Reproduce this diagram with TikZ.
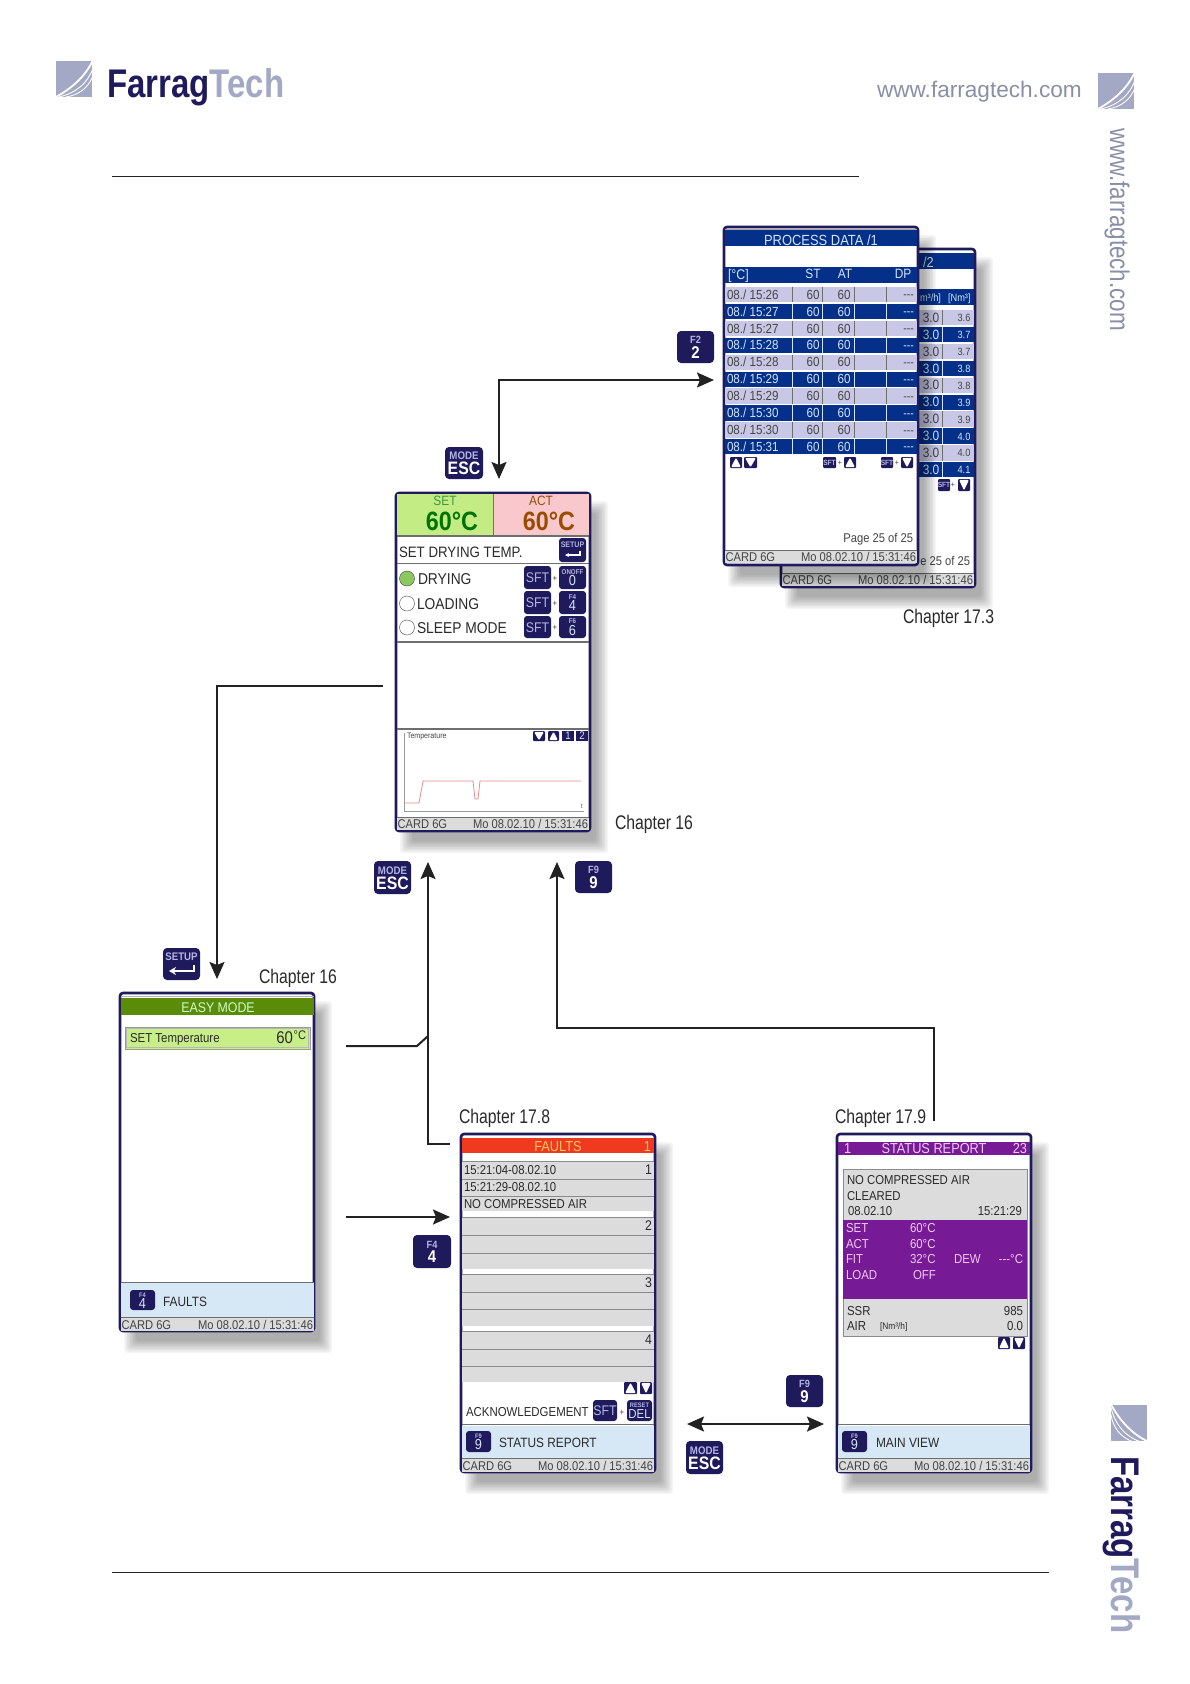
\documentclass[tikz,border=0pt]{standalone}
\usepackage{fontspec}
\usetikzlibrary{arrows.meta}
\setmainfont{Liberation Sans}
\newfontfamily\scr[FakeStretch=.88]{Liberation Sans}
\newfontfamily\chapf[FakeStretch=.8]{Liberation Sans}
\newfontfamily\urlf[FakeStretch=.83]{Liberation Sans}
\newfontfamily\logof[FakeStretch=.825]{Liberation Sans}
\definecolor{navy}{HTML}{1F1A5C}
\definecolor{lil}{HTML}{A3A8C4}
\definecolor{keylil}{HTML}{B4B4E4}
\definecolor{pblue}{HTML}{04308A}
\definecolor{prow}{HTML}{C8C8E6}
\definecolor{ptxt}{HTML}{D4E4F8}
\definecolor{dtx}{HTML}{2A2A2A}
\definecolor{gtx}{HTML}{444444}
\definecolor{sep}{HTML}{6E6E6E}
\definecolor{rowg}{HTML}{DCDCDC}
\definecolor{botb}{HTML}{D6E8F5}
\definecolor{purp}{HTML}{761A96}
\definecolor{ppink}{HTML}{F2C8F2}
\definecolor{gline}{HTML}{222222}
\definecolor{fltxt}{HTML}{FFC860}
\definecolor{chartred}{HTML}{E88A8A}
\newcount\tn
\tikzset{
  txt/.style={inner sep=0pt,outer sep=0pt},
  scrframe/.style={draw=navy,fill=white,line width=2.6pt,rounded corners=3pt,minimum width=194pt,minimum height=338pt,inner sep=0pt,outer sep=0pt},
  keybox/.style={fill=navy,rounded corners=4pt,inner sep=0pt,outer sep=0pt},
  conn/.style={draw=gline,line width=2pt},
  arr/.style={-{Stealth[length=17pt,width=15pt,inset=3pt]}},
  arrb/.style={{Stealth[length=17pt,width=15pt,inset=3pt]}-{Stealth[length=17pt,width=15pt,inset=3pt]}},
  rule/.style={draw=gline,line width=.9pt},
  chap/.style={txt,anchor=base west,text=dtx,font=\chapf\fontsize{19.7}{20}\selectfont},
}
% #1 x, #2 y(centre of caps), #3 anchor, #4 size, #5 colour, #6 text
\newcommand\tx[6]{\global\advance\tn by1
  \node[txt,anchor=#3,text=#5,font=\scr\fontsize{#4}{#4}\selectfont] (t\the\tn) at ({#1},{#2+.36*#4}) {#6};}
\newcommand\txb[6]{\global\advance\tn by1
  \node[txt,anchor=#3,text=#5,font=\scr\bfseries\fontsize{#4}{#4}\selectfont] (t\the\tn) at ({#1},{#2+.36*#4}) {#6};}
\newcommand\screen[3]{%
  \foreach \s in {6,4.5,3,1.5,0,-1.5,-3,-4.5,-6}{
    \fill[black,opacity=.04,rounded corners=3pt] ({#2+11-\s},{#3+15-\s}) rectangle ({#2+207+\s},{#3+355+\s});}
  \node[scrframe] (#1) at ({#2+98},{#3+170}) {};}
\newcommand\foot[3]{%
  \fill[rowg] ({#1+2},#3) rectangle ({#2-2},{#3+13});
  \draw[sep,line width=.8pt] ({#1+2},#3) -- ({#2-2},#3);
  \tx{#1+2.5}{#3+7}{base west}{12.7}{gtx}{CARD 6G}
  \tx{#2-3}{#3+7}{base east}{12.7}{gtx}{Mo 08.02.10 / 15:31:46}}
% name x0 y0 x1 y1 top bottom topsize botsize
\newcommand\key[9]{%
  \pgfmathsetmacro\kw{#4-#2}\pgfmathsetmacro\kh{#5-#3}
  \node[keybox,minimum width=\kw pt,minimum height=\kh pt] (#1) at ({(#2+#4)/2},{(#3+#5)/2}) {};
  \txb{(#2+#4)/2}{#3+.28*(#5-#3)}{base}{#8}{keylil}{#6}
  \txb{(#2+#4)/2}{#3+.66*(#5-#3)}{base}{#9}{white}{#7}}
% small key in a screen
\newcommand\skey[9]{%
  \pgfmathsetmacro\kw{#4-#2}\pgfmathsetmacro\kh{#5-#3}
  \node[keybox,rounded corners=3pt,minimum width=\kw pt,minimum height=\kh pt] (#1) at ({(#2+#4)/2},{(#3+#5)/2}) {};
  \txb{(#2+#4)/2}{#3+.24*(#5-#3)}{base}{#8}{keylil}{#6}
  \tx{(#2+#4)/2}{#3+.64*(#5-#3)}{base}{#9}{ptxt}{#7}}
\newcommand\sftkey[5]{%
  \pgfmathsetmacro\kw{#4-#2}\pgfmathsetmacro\kh{#5-#3}
  \node[keybox,rounded corners=3pt,minimum width=\kw pt,minimum height=\kh pt] (#1) at ({(#2+#4)/2},{(#3+#5)/2}) {};
  \tx{(#2+#4)/2}{(#3+#5)/2}{base}{14}{keylil}{SFT}}
\newcommand\minisft[4]{%
  \fill[navy,rounded corners=1pt] (#1,#2) rectangle (#3,#4);
  \txb{(#1+#3)/2}{(#2+#4)/2}{base}{7.5}{keylil}{SFT}}
\newcommand\upk[4]{%
  \fill[navy,rounded corners=1pt] (#1,#2) rectangle (#3,#4);
  \fill[white,rounded corners=1.2pt] ({#1+1},{#4-.8}) -- ({(#1+#3)/2},{#2+.6}) -- ({#3-1},{#4-.8}) -- cycle;}
\newcommand\dnk[4]{%
  \fill[navy,rounded corners=1pt] (#1,#2) rectangle (#3,#4);
  \fill[white,rounded corners=1.2pt] ({#1+1},{#2+.8}) -- ({(#1+#3)/2},{#4-.6}) -- ({#3-1},{#2+.8}) -- cycle;}
\newcommand\logomark[3]{%
  \begin{scope}[shift={(#1,#2)},rotate=#3]
    \fill[lil] (-18,-18) rectangle (18,18);
    \draw[white,line width=1.8pt] (-18,18) .. controls (0,8) and (12,-4) .. (19,-19);
    \draw[white,line width=.9pt] (-15,18) .. controls (2,14) and (14,4) .. (19,-11);
    \draw[white,line width=.9pt] (-8,18) .. controls (5,16) and (14,9) .. (19,-3);
  \end{scope}}
\begin{document}
\begin{tikzpicture}[x=1pt,y=-1pt]
\useasboundingbox (0,0) rectangle (1190,1684);
\fill[white] (0,0) rectangle (1190,1684);

% header, footer, rules
\logomark{74}{79}{0}
\logomark{1116}{91}{0}
\logomark{1129}{1422.5}{-90}
\node[txt,anchor=base west,font=\logof\bfseries\fontsize{40}{40}\selectfont] (logotop) at (107,97) {\textcolor{navy}{Farrag}\textcolor{lil}{Tech}};
\node[txt,anchor=base west,rotate=-90,font=\logof\bfseries\fontsize{40}{40}\selectfont] (logoside) at (1111,1456) {\textcolor{navy}{Farrag}\textcolor{lil}{Tech}};
\node[txt,anchor=base west,text=lil!85!black,font=\fontsize{22.6}{22.6}\selectfont] (urltop) at (877,97) {www.farragtech.com};
\node[txt,anchor=base west,rotate=-90,text=lil!85!black,font=\urlf\fontsize{27}{27}\selectfont] (urlside) at (1110,128) {www.farragtech.com};
\coordinate (r1a) at (112,176); \coordinate (r1b) at (859,176);
\coordinate (r2a) at (112,1572); \coordinate (r2b) at (1049,1572);
\draw[rule] (r1a) -- (r1b);
\draw[rule] (r2a) -- (r2b);

% ------------- back process screen
\screen{procb}{780}{248}
\fill[pblue] (919,253) rectangle (974,269);
\fill[pblue] (919,289) rectangle (974,305);
\tx{923}{262}{base west}{14.5}{ptxt}{/2}
\tx{920}{297.5}{base west}{10.5}{ptxt}{m³/h]}
\tx{948}{297.5}{base west}{10.5}{ptxt}{[Nm³]}
\foreach \v [count=\k from 0] in {3.6,3.7,3.7,3.8,3.8,3.9,3.9,4.0,4.0,4.1}{
  \pgfmathsetmacro\yy{310+16.9*\k}
  \pgfmathtruncatemacro\odd{mod(\k,2)}
  \ifnum\odd=1
    \fill[pblue] (919,\yy) rectangle (974,{\yy+15.3});
    \draw[ptxt,line width=1pt] (942,\yy) -- (942,{\yy+15.3});
    \tx{931}{\yy+7.5}{base}{13.5}{ptxt}{3.0}
    \tx{964}{\yy+8}{base}{10.5}{ptxt}{\v}
  \else
    \fill[prow] (919,\yy) rectangle (974,{\yy+15.3});
    \draw[sep,line width=1pt] (942,\yy) -- (942,{\yy+15.3});
    \tx{931}{\yy+7.5}{base}{13.5}{gtx}{3.0}
    \tx{964}{\yy+8}{base}{10.5}{gtx}{\v}
  \fi
}
\minisft{938}{479}{950}{491}
\tx{953}{485}{base}{8}{gtx}{+}
\dnk{958}{479}{970}{491}
\tx{970}{561}{base east}{12.7}{gtx}{e 25 of 25}
\foot{780}{976}{573}

% ------------- front process screen
\screen{procf}{723}{226}
\draw[sep!60,line width=1pt] (725,229) -- (917,229);
\fill[pblue] (725,230) rectangle (917,246);
\tx{821}{240}{base}{14.7}{ptxt}{PROCESS DATA /1}
\fill[pblue] (725,267) rectangle (917,283);
\tx{728}{274}{base west}{14}{ptxt}{[°C]}
\tx{813}{274}{base}{13.5}{ptxt}{ST}
\tx{845}{274}{base}{13.5}{ptxt}{AT}
\tx{903}{274}{base}{13.5}{ptxt}{DP}
\foreach \d [count=\k from 0] in {15:26,15:27,15:27,15:28,15:28,15:29,15:29,15:30,15:30,15:31}{
  \pgfmathsetmacro\yy{287+16.9*\k}
  \pgfmathtruncatemacro\odd{mod(\k,2)}
  \ifnum\odd=1
    \fill[pblue] (725,\yy) rectangle (917,{\yy+15.3});
    \foreach \sx in {792,822,854,886}{\draw[ptxt,line width=1pt] (\sx,\yy) -- (\sx,{\yy+15.3});}
    \tx{727}{\yy+7.5}{base west}{13.2}{ptxt}{08./ \d}
    \tx{813}{\yy+7.5}{base}{13.2}{ptxt}{60}
    \tx{844}{\yy+7.5}{base}{13.2}{ptxt}{60}
    \tx{914}{\yy+7.5}{base east}{12}{ptxt}{---}
  \else
    \fill[prow] (725,\yy) rectangle (917,{\yy+15.3});
    \foreach \sx in {792,822,854,886}{\draw[sep,line width=1pt] (\sx,\yy) -- (\sx,{\yy+15.3});}
    \tx{727}{\yy+7.5}{base west}{13.2}{gtx}{08./ \d}
    \tx{813}{\yy+7.5}{base}{13.2}{gtx}{60}
    \tx{844}{\yy+7.5}{base}{13.2}{gtx}{60}
    \tx{914}{\yy+7.5}{base east}{12}{gtx}{---}
  \fi
}
\upk{730}{457}{742}{468}
\dnk{744}{457}{757}{468}
\minisft{823}{457}{836}{468}
\tx{840}{462.5}{base}{8}{gtx}{+}
\upk{844}{457}{856}{468}
\minisft{881}{457}{893}{468}
\tx{897}{462.5}{base}{8}{gtx}{+}
\dnk{901}{457}{913}{468}
\tx{913}{538}{base east}{12.7}{gtx}{Page 25 of 25}
\foot{723}{919}{550}

% ------------- main screen
\screen{main}{395}{492}
\fill[fill={rgb,255:red,196;green,236;blue,132}] (397,494) rectangle (493,535);
\fill[fill={rgb,255:red,248;green,200;blue,204}] (493,494) rectangle (589,535);
\draw[sep,line width=1pt] (493,494) -- (493,535);
\foreach \yy in {536,563.5,642,729}{\draw[sep,line width=1.1pt] (397,\yy) -- (589,\yy);}
\tx{445}{501}{base}{13.5}{green!45!black!75}{SET}
\tx{541}{501}{base}{13.5}{orange!60!black}{ACT}
\txb{452}{521}{base}{26.5}{green!45!black}{60°C}
\txb{549}{521}{base}{26.5}{orange!60!black}{60°C}
\tx{399}{552}{base west}{15.1}{dtx}{SET DRYING TEMP.}
\node[keybox,rounded corners=3pt,minimum width=27pt,minimum height=24pt] (ksetupm) at (572.5,550) {};
\txb{572.5}{545}{base}{8}{keylil}{SETUP}
\draw[white,line width=1.2pt,-{Stealth[length=4pt,width=4pt]}] (580,551) -- (580,555) -- (565,555);
\fill[fill={rgb,255:red,140;green,200;blue,96},draw=gtx,line width=.4pt] (407,578.5) circle (7.5);
\draw[gtx,line width=.4pt,fill=white] (407,603.5) circle (7.5);
\draw[gtx,line width=.4pt,fill=white] (407,627.5) circle (7.5);
\tx{418}{578.5}{base west}{15.7}{dtx}{DRYING}
\tx{417}{603.5}{base west}{15.7}{dtx}{LOADING}
\tx{417}{627.5}{base west}{15.7}{dtx}{SLEEP MODE}
\sftkey{ks1}{524}{566}{551}{589}
\sftkey{ks2}{524}{591}{551}{614}
\sftkey{ks3}{524}{616}{551}{638}
\tx{555}{578}{base}{9}{gtx}{+}
\tx{555}{603}{base}{9}{gtx}{+}
\tx{555}{627}{base}{9}{gtx}{+}
\skey{kon}{559}{566}{586}{589}{ONOFF}{0}{7}{14.5}
\skey{kf4m}{559}{591}{586}{614}{F4}{4}{7}{14.5}
\skey{kf6m}{559}{616}{586}{638}{F6}{6}{7}{14.5}
% chart
\draw[sep!70,line width=.8pt] (404,733) -- (404,811) -- (584,811);
\tx{407}{736}{base west}{8}{gtx}{Temperature}
\dnk{533}{731}{545}{741}
\upk{548}{731}{559}{741}
\fill[navy] (562,731) rectangle (574,741);
\fill[navy] (576,731) rectangle (588,741);
\tx{568}{736}{base}{11}{ptxt}{1}
\tx{582}{736}{base}{11}{ptxt}{2}
\tx{582}{806}{base}{6.5}{gtx}{t}
\draw[chartred,line width=.8pt] (404,803) -- (419,803) -- (423,781) -- (473,781) -- (475,799) -- (478,799) -- (480,781) -- (581,781);
\foot{395}{591}{817}

% ------------- easy mode screen
\screen{easy}{119}{992}
\draw[sep!50,line width=1pt] (121,996.5) -- (314,996.5);
\fill[fill={rgb,255:red,90;green,140;blue,10}] (121,998) rectangle (314,1015);
\tx{218}{1007}{base}{14}{green!20!white}{EASY MODE}
\fill[fill={rgb,255:red,200;green,238;blue,136},draw=sep!70,line width=.8pt] (125,1027) rectangle (310,1049);
\draw[sep!50,line width=.4pt] (126.5,1028.5) rectangle (308.5,1047.5);
\tx{130}{1038}{base west}{13}{dtx}{SET Temperature}
\tx{293}{1037}{base east}{17}{dtx}{60}
\tx{306}{1035}{base east}{12.5}{dtx}{°C}
\fill[botb] (121,1283) rectangle (314,1317);
\draw[sep,line width=1.1pt] (121,1282.5) -- (314,1282.5);
\skey{kf4e}{130}{1290}{155}{1310}{F4}{4}{6.5}{14.5}
\tx{163}{1302}{base west}{13.5}{dtx}{FAULTS}
\foot{119}{316}{1317.5}

% ------------- faults screen
\screen{faults}{460}{1133}
\fill[fill={rgb,255:red,240;green,58;blue,32}] (462,1138) rectangle (654,1153);
\tx{558}{1146}{base}{14.5}{fltxt}{FAULTS}
\tx{651}{1146}{base east}{14.5}{fltxt}{1}
\foreach \a/\b/\c/\d/\n in {1161/1179/1196/1211/1,1217/1235/1253/1269/2,1274/1292/1309/1326/3,1331/1349/1366/1382/4}{
  \fill[rowg] (462,\a) rectangle (654,\d);
  \draw[sep!80,line width=.6pt] (462,\a) -- (654,\a);
  \draw[sep!80,line width=.6pt] (462,\b) -- (654,\b);
  \draw[sep!80,line width=.6pt] (462,\c) -- (654,\c);
  \tx{652}{\a+8.5}{base east}{14}{dtx}{\n}
}
\tx{464}{1170}{base west}{12.9}{dtx}{15:21:04-08.02.10}
\tx{464}{1187}{base west}{12.9}{dtx}{15:21:29-08.02.10}
\tx{464}{1204}{base west}{12.9}{dtx}{NO COMPRESSED AIR}
\upk{624}{1382}{637}{1394}
\dnk{640}{1382}{652}{1394}
\tx{466}{1412}{base west}{13}{dtx}{ACKNOWLEDGEMENT}
\sftkey{ksf}{593}{1400}{617}{1421}
\tx{622}{1412}{base}{9}{gtx}{+}
\skey{kdel}{627}{1400}{652}{1421}{RESET}{DEL}{6.5}{13}
\draw[sep,line width=1.1pt] (462,1424.5) -- (654,1424.5);
\fill[botb] (462,1425.5) rectangle (654,1458);
\skey{kf9f}{466}{1431}{491}{1452}{F9}{9}{6.5}{14.5}
\tx{499}{1443}{base west}{13.5}{dtx}{STATUS REPORT}
\foot{460}{656}{1458.5}

% ------------- status report screen
\screen{status}{836}{1133}
\fill[purp] (838,1142) rectangle (1030,1155);
\tx{844}{1148}{base west}{14.5}{ppink}{1}
\tx{934}{1148}{base}{14.5}{ppink}{STATUS REPORT}
\tx{1027}{1148}{base east}{14.5}{ppink}{23}
\fill[rowg,draw=sep!80,line width=.7pt] (843,1169) rectangle (1027,1336);
\fill[purp] (843,1220) rectangle (1027,1299);
\tx{847}{1180}{base west}{12.9}{dtx}{NO COMPRESSED AIR}
\tx{847}{1196}{base west}{12.9}{dtx}{CLEARED}
\tx{848}{1211}{base west}{12.9}{dtx}{08.02.10}
\tx{1022}{1211}{base east}{12.9}{dtx}{15:21:29}
\tx{846}{1228}{base west}{13}{ppink}{SET}
\tx{846}{1244}{base west}{13}{ppink}{ACT}
\tx{846}{1259}{base west}{13}{ppink}{FIT}
\tx{846}{1275}{base west}{13}{ppink}{LOAD}
\tx{910}{1228}{base west}{13}{ppink}{60°C}
\tx{910}{1244}{base west}{13}{ppink}{60°C}
\tx{910}{1259}{base west}{13}{ppink}{32°C}
\tx{913}{1275}{base west}{13}{ppink}{OFF}
\tx{954}{1259}{base west}{13}{ppink}{DEW}
\tx{1023}{1259}{base east}{13}{ppink}{---°C}
\tx{847}{1311}{base west}{13}{dtx}{SSR}
\tx{847}{1326}{base west}{13}{dtx}{AIR}
\tx{880}{1326}{base west}{9.5}{dtx}{[Nm³/h]}
\tx{1023}{1311}{base east}{13}{dtx}{985}
\tx{1023}{1326}{base east}{13}{dtx}{0.0}
\upk{998}{1337}{1010}{1349}
\dnk{1013}{1337}{1025}{1349}
\draw[sep,line width=1.1pt] (838,1424.5) -- (1030,1424.5);
\fill[botb] (838,1425.5) rectangle (1030,1458);
\skey{kf9s}{842}{1431}{867}{1452}{F9}{9}{6.5}{14.5}
\tx{876}{1443}{base west}{13.5}{dtx}{MAIN VIEW}
\foot{836}{1032}{1458.5}

% ------------- chapter labels
\node[chap] (c173) at (903,623) {Chapter 17.3};
\node[chap] (c16a) at (615,829) {Chapter 16};
\node[chap] (c16b) at (259,983) {Chapter 16};
\node[chap] (c178) at (459,1123) {Chapter 17.8};
\node[chap] (c179) at (835,1123) {Chapter 17.9};

% ------------- big keys
\key{kF2}{677}{331}{714}{363}{F2}{2}{10.5}{17}
\key{kEsc1}{445}{447}{483}{479}{MODE}{ESC}{11}{18}
\key{kEsc2}{374}{861}{411}{894}{MODE}{ESC}{11}{18}
\key{kF9a}{575}{861}{612}{893}{F9}{9}{10.5}{17}
\key{kF4}{413}{1235}{451}{1268}{F4}{4}{10.5}{17}
\key{kF9b}{786}{1375}{823}{1407}{F9}{9}{10.5}{17}
\key{kEsc3}{686}{1441}{723}{1474}{MODE}{ESC}{11}{18}
\node[keybox,minimum width=37pt,minimum height=32pt] (kSetup) at (181.5,964) {};
\txb{181.5}{956.5}{base}{11}{keylil}{SETUP}
\draw[white,line width=2pt,-{Stealth[length=7pt,width=8pt]}] (194,965) -- (194,971) -- (169,971);

% ------------- connectors
\coordinate (a1) at (714,380); \coordinate (a2) at (499,380); \coordinate (a3) at (499,479);
\draw[conn,arrb] (a1) -- (a2) -- (a3);
\coordinate (b1) at (383,686); \coordinate (b2) at (217,686); \coordinate (b3) at (217,979);
\draw[conn,arr] (b1) -- (b2) -- (b3);
\coordinate (c1) at (450,1144); \coordinate (c2) at (428,1144); \coordinate (c3) at (428,862);
\draw[conn,arr] (c1) -- (c2) -- (c3);
\coordinate (d1) at (346,1046); \coordinate (d2) at (417,1046); \coordinate (d3) at (428,1036);
\draw[conn] (d1) -- (d2) -- (d3);
\coordinate (e1) at (346,1217); \coordinate (e2) at (450,1217);
\draw[conn,arr] (e1) -- (e2);
\coordinate (f1) at (934,1121); \coordinate (f2) at (934,1028); \coordinate (f3) at (557,1028); \coordinate (f4) at (557,862);
\draw[conn,arr] (f1) -- (f2) -- (f3) -- (f4);
\coordinate (g1) at (687,1424); \coordinate (g2) at (824,1424);
\draw[conn,arrb] (g1) -- (g2);
\end{tikzpicture}
\end{document}
